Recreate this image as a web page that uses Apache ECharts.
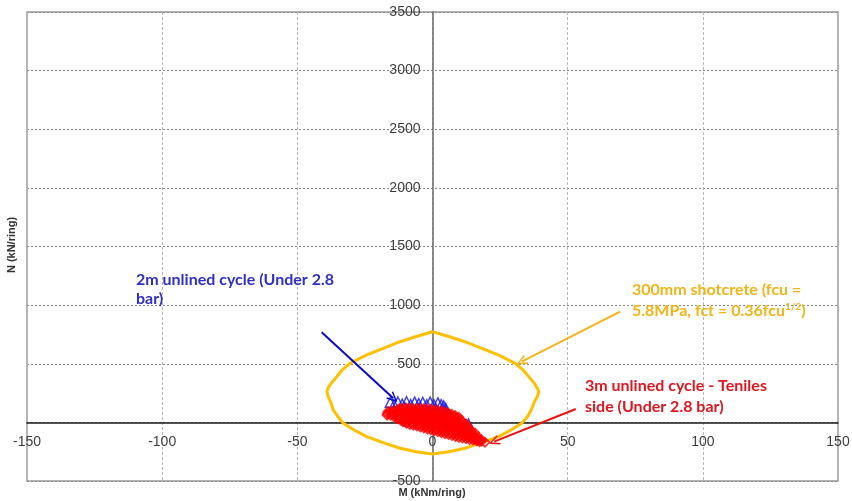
<!DOCTYPE html>
<html>
<head>
<meta charset="utf-8">
<title>N-M interaction</title>
<script src="https://cdn.jsdelivr.net/npm/echarts@6/dist/echarts.min.js"></script>
<style>
  html, body { margin: 0; padding: 0; background: #fff; }
  #chart { width: 852px; height: 501px; }
</style>
</head>
<body>
<div id="chart"></div>
<script>
// tick labels
var xTicks = [-150, -100, -50, 0, 50, 100, 150];
var yTicks = [-500, 0, 500, 1000, 1500, 2000, 2500, 3000, 3500];

// 300mm shotcrete capacity envelope [M, N]
var envelope = [
  [0, 773], [-6, 732], [-12, 688], [-18, 633], [-24.3, 575], [-30.5, 504], [-33.5, 445],
  [-35.4, 390], [-37.6, 330], [-38.8, 285], [-39, 262], [-38.7, 225], [-37.8, 180],
  [-36.7, 106], [-35, 50], [-33, -8], [-29, -65], [-24.3, -122], [-18, -175], [-12, -221],
  [-6, -250], [0, -270], [6, -250], [12, -221], [18, -175], [24.5, -122], [29, -65],
  [33, -8], [35.2, 50], [36.5, 106], [37.8, 180], [38.9, 225], [39.3, 262], [38.9, 285],
  [37.8, 330], [35.6, 390], [33.6, 445], [30.6, 504], [24.3, 575], [18, 633], [12, 688],
  [6, 732], [0, 773]
];

// 2m unlined cycle (under 2.8 bar) [M, N]
var cycle2m = [
  [-15.6, 172], [-14.2, 150], [-12.8, 174], [-11.2, 155], [-9.6, 176], [-8.1, 152],
  [-6.6, 173], [-5.1, 160], [-3.6, 170], [-2.1, 150], [-0.9, 172], [0.5, 152],
  [2.0, 166], [3.2, 150], [4.1, 140], [4.9, 118], [4.6, 95], [3.6, 112],
  [-10, 120], [-5, 118], [1, 110], [13.3, -14], [12.6, -26]
];

// 3m unlined cycle - tensile side (under 2.8 bar) [M, N]
var cycle3m = [
  [-16.7, 75], [-16.4, 92], [-16.8, 62],
  [-15.5, 60], [-15.4, 90], [-15.0, 75],
  [-14.2, 45], [-14.1, 75], [-14.3, 100], [-13.6, 60], [-13.6, 88],
  [-13, 32], [-12.9, 62], [-13.1, 90], [-13, 106],
  [-12.3, 28], [-12.4, 76], [-12.2, 118],
  [-11.7, 20], [-11.6, 50], [-11.8, 80], [-11.7, 106],
  [-11.0, 5], [-11.1, 35], [-11.0, 92], [-11.1, 120],
  [-10.4, 10], [-10.5, 40], [-10.3, 70], [-10.4, 106],
  [-9.7, -8], [-9.8, 52], [-9.7, 88], [-9.6, 120],
  [-9.1, 2], [-9.2, 35], [-9.0, 68], [-9.1, 106],
  [-8.4, -18], [-8.5, 15], [-8.4, 48], [-8.5, 82], [-8.4, 120],
  [-7.8, -5], [-7.9, 28], [-7.7, 62], [-7.8, 102],
  [-7.1, -24], [-7.2, 42], [-7.1, 76], [-7.2, 118],
  [-6.5, -12], [-6.4, 22], [-6.6, 55], [-6.5, 85], [-6.4, 106],
  [-5.8, -30], [-5.9, 2], [-5.8, 35], [-5.9, 66], [-5.8, 118],
  [-5.2, -20], [-5.3, 15], [-5.1, 48], [-5.2, 80], [-5.3, 104],
  [-4.5, -40], [-4.6, -8], [-4.5, 25], [-4.6, 58], [-4.5, 88], [-4.6, 118],
  [-3.9, -28], [-3.8, 5], [-4.0, 40], [-3.9, 72], [-3.8, 100],
  [-3.2, -48], [-3.3, -15], [-3.2, 18], [-3.3, 50], [-3.2, 84], [-3.3, 116],
  [-2.6, -35], [-2.7, -2], [-2.5, 32], [-2.6, 66], [-2.7, 98],
  [-1.9, -56], [-2.0, -22], [-1.9, 10], [-2.0, 44], [-1.9, 78], [-2.0, 114],
  [-1.3, -42], [-1.2, -10], [-1.4, 25], [-1.3, 60], [-1.2, 95],
  [-0.6, -64], [-0.7, -30], [-0.6, 2], [-0.7, 36], [-0.6, 72], [-0.7, 110],
  [0, -50], [0.1, -18], [-0.1, 18], [0, 52], [0.1, 92],
  [0.7, -72], [0.6, -38], [0.7, -4], [0.6, 30], [0.7, 68], [0.6, 106],
  [1.3, -58], [1.2, -25], [1.4, 10], [1.3, 45], [1.2, 88],
  [2.0, -80], [1.9, -46], [2.0, -12], [1.9, 24], [2.0, 64], [1.9, 102],
  [2.6, -65], [2.7, -32], [2.5, 2], [2.6, 38], [2.7, 84],
  [3.3, -88], [3.2, -54], [3.3, -20], [3.2, 16], [3.3, 58], [3.2, 98],
  [3.9, -72], [3.8, -40], [4.0, -5], [3.9, 30], [3.8, 78],
  [4.6, -96], [4.5, -62], [4.6, -28], [4.5, 8], [4.6, 50], [4.5, 90],
  [5.2, -80], [5.3, -48], [5.1, -12], [5.2, 22], [5.3, 70],
  [5.9, -104], [5.8, -70], [5.9, -36], [5.8, 0], [5.9, 40], [5.8, 80],
  [6.5, -88], [6.4, -55], [6.6, -20], [6.5, 15], [6.4, 60],
  [7.2, -112], [7.1, -78], [7.2, -44], [7.1, -8], [7.2, 30], [7.1, 70],
  [7.8, -95], [7.9, -62], [7.7, -28], [7.8, 8], [7.9, 50],
  [8.5, -120], [8.4, -86], [8.5, -52], [8.4, -16], [8.5, 20], [8.4, 58],
  [9.1, -103], [9.0, -70], [9.2, -36], [9.1, -2], [9.0, 38],
  [9.8, -128], [9.7, -94], [9.8, -60], [9.7, -26], [9.8, 8], [9.7, 44],
  [10.4, -110], [10.5, -78], [10.3, -44], [10.4, -10], [10.5, 22],
  [11.1, -134], [11.0, -102], [11.1, -68], [11.0, -34], [11.1, 2],
  [11.7, -118], [11.6, -86], [11.8, -52], [11.7, -20],
  [12.4, -140], [12.3, -110], [12.4, -78], [12.3, -44], [12.4, -14],
  [13, -126], [13.1, -96], [12.9, -64], [13, -34],
  [13.7, -146], [13.6, -118], [13.7, -88], [13.6, -56],
  [14.3, -134], [14.2, -106], [14.4, -76],
  [15.0, -150], [14.9, -122], [15.0, -96],
  [15.6, -142], [15.5, -115], [15.7, -90],
  [16.3, -156], [16.2, -132],
  [16.9, -150], [17.0, -128],
  [18.2, -160], [18.0, -146],
  [19.4, -170], [17.4, -165]
];

// annotation arrows [from, to] in [M, N]
var arrow2m = [[-41, 768], [-14.5, 205]];
var arrowShot = [[69.4, 944], [33, 518]];
var arrow3m = [[53, 114], [22.8, -164]];

var chevron = 'path://M0,10 L5,0 L10,10 L8.6,10.7 L5,2.8 L1.4,10.7 Z';

function arrowItem(a, color) {
  return [
    { coord: a[0], lineStyle: { color: color, width: 2, type: 'solid' } },
    { coord: a[1], lineStyle: { color: color, width: 2, type: 'solid' } }
  ];
}

// plot box in pixels; axes are shifted onto the origin with offset
var gridLeft = 27, gridRight = 14, gridTop = 12, gridBottom = 20;
var plotW = 852 - gridLeft - gridRight, plotH = 501 - gridTop - gridBottom;
var xMin = xTicks[0], xMax = xTicks[xTicks.length - 1];
var yMin = yTicks[0], yMax = yTicks[yTicks.length - 1];
var yAxisOffset = -plotW * (0 - xMin) / (xMax - xMin);
var xAxisOffset = -plotH * (0 - yMin) / (yMax - yMin);

var chart = echarts.init(document.getElementById('chart'));

var option = {
  animation: false,
  backgroundColor: '#fff',
  grid: {
    left: gridLeft, right: gridRight, top: gridTop, bottom: gridBottom,
    containLabel: false, outerBoundsMode: 'none',
    show: true, borderColor: '#9a9a9a', borderWidth: 1.5, backgroundColor: '#fff'
  },
  xAxis: {
    type: 'value',
    min: xMin, max: xMax, interval: 50,
    offset: xAxisOffset,
    axisLine: { onZero: false, lineStyle: { color: '#1a1a1a', width: 1.5 } },
    axisTick: { show: false },
    axisLabel: { color: '#404040', fontSize: 14, fontFamily: 'Liberation Sans', margin: 13,
      showMinLabel: true, showMaxLabel: true, formatter: function (v) { return String(v); } },
    splitLine: { show: true, lineStyle: { color: '#b8b8b8', type: [3, 2], width: 1 } }
  },
  yAxis: {
    type: 'value',
    min: yMin, max: yMax, interval: 500,
    offset: yAxisOffset,
    axisLine: { onZero: false, lineStyle: { color: '#6a6a6a', width: 1.5 } },
    axisTick: { show: false },
    axisLabel: { color: '#404040', fontSize: 14, fontFamily: 'Liberation Sans', margin: 12,
      showMinLabel: true, showMaxLabel: true, formatter: function (v) { return String(v); } },
    splitLine: { show: true, lineStyle: { color: '#8a8a8a', type: [2, 2], width: 1 } }
  },
  series: [
    {
      name: '300mm shotcrete',
      type: 'line',
      data: envelope,
      showSymbol: false,
      lineStyle: { color: '#FFC000', width: 3 },
      z: 3,
      markLine: {
        silent: true,
        symbol: ['none', chevron],
        symbolSize: [10, 11],
        label: { show: false },
        data: [
          arrowItem(arrow2m, '#0a0ac8'),
          arrowItem(arrowShot, '#F2B416'),
          arrowItem(arrow3m, '#ee1010')
        ]
      }
    },
    {
      name: '2m unlined cycle',
      type: 'scatter',
      data: cycle2m,
      symbol: 'triangle',
      symbolSize: 10,
      itemStyle: { color: 'rgba(0,0,0,0)', borderColor: '#1414e6', borderWidth: 1.5 },
      z: 4
    },
    {
      name: '3m unlined cycle',
      type: 'scatter',
      data: cycle3m,
      symbol: 'diamond',
      symbolSize: [9, 9],
      itemStyle: { color: 'rgba(0,0,0,0)', borderColor: '#ff0000', borderWidth: 1.8 },
      z: 5
    }
  ],
  graphic: [
    {
      type: 'text', left: 136, top: 270, z: 10,
      style: {
        text: '2m unlined cycle (Under 2.8\nbar)',
        fill: '#2e2ec8', font: 'bold 16px Lato', lineHeight: 19
      }
    },
    {
      type: 'text', left: 632, top: 282, z: 10,
      style: {
        text: '{a|300mm shotcrete (fcu =}\n{a|5.8MPa, fct = 0.36fcu}{s|1/2}{a|)}',
        rich: {
          a: { fill: '#F2B416', fontFamily: 'Lato', fontWeight: 'bold', fontSize: 16, lineHeight: 21 },
          s: { fill: '#F2B416', fontFamily: 'Lato', fontWeight: 'bold', fontSize: 10, lineHeight: 21, padding: [0, 0, 9, 0] }
        }
      }
    },
    {
      type: 'text', left: 585, top: 375, z: 10,
      style: {
        text: '3m unlined cycle - Teniles\nside (Under 2.8 bar)',
        fill: '#e3141e', font: 'bold 16px Lato', lineHeight: 21
      }
    },
    {
      type: 'text', x: 432, y: 493, z: 10,
      style: {
        text: 'M (kNm/ring)', fill: '#333', font: 'bold 11px Liberation Sans',
        align: 'center', verticalAlign: 'middle'
      }
    },
    {
      type: 'text', x: 12, y: 245, rotation: Math.PI / 2, z: 10,
      style: {
        text: 'N (kN/ring)', fill: '#333', font: 'bold 11px Liberation Sans',
        align: 'center', verticalAlign: 'middle'
      }
    }
  ]
};

chart.setOption(option);
</script>
</body>
</html>
